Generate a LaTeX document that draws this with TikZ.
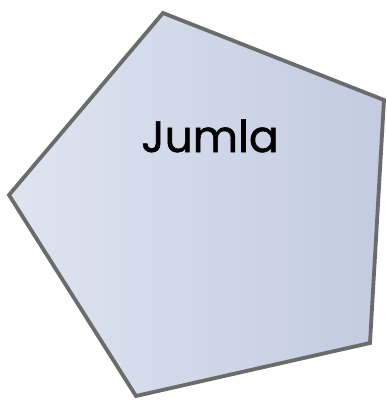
\documentclass[tikz,border=0pt]{standalone}
\usepackage{fontspec}
\setmainfont{Poppins}
\newfontfamily\lblfont{Poppins}[FakeBold=1.2]
\definecolor{fillL}{RGB}{223,228,240}
\definecolor{fillR}{RGB}{194,203,224}
\definecolor{edge}{RGB}{107,107,107}
\begin{document}
\begin{tikzpicture}[x=1pt,y=-1pt,
  shapeedge/.style={draw=edge,line width=3.8pt,line join=miter,left color=fillL,right color=fillR},
  label/.style={font=\lblfont\fontsize{44}{50}\selectfont,text=black,inner sep=0pt}]
\useasboundingbox (0,0) rectangle (387,402);
\coordinate (p1) at (163,13);
\coordinate (p2) at (384,100);
\coordinate (p3) at (370,343);
\coordinate (p4) at (136,396);
\coordinate (p5) at (9,195);
\path[shapeedge] (p1) -- (p2) -- (p3) -- (p4) -- (p5) -- cycle;
\node[label,anchor=base] (t) at (210,152) {Jumla};
\end{tikzpicture}
\end{document}
